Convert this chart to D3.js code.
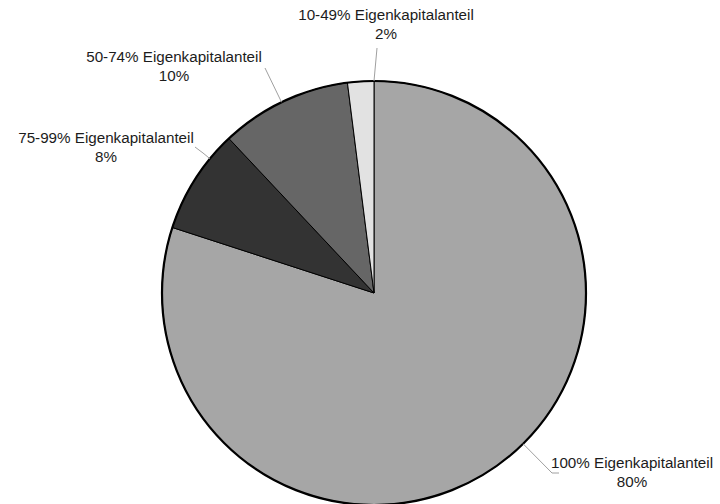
<!DOCTYPE html>
<html>
<head>
<meta charset="utf-8">
<script src="https://cdn.jsdelivr.net/npm/d3@7"></script>
<style>
  html, body { margin: 0; padding: 0; background: #fff; }
  svg { display: block; }
  text { font-family: "Liberation Sans", Arial, Helvetica, sans-serif; font-size: 15.2px; fill: #1c1c1c; }
</style>
</head>
<body>
<svg id="chart" width="720" height="504"></svg>
<script>
// Anteil der Unternehmen nach Eigenkapitalanteil
const categories = [
  "100% Eigenkapitalanteil",
  "75-99% Eigenkapitalanteil",
  "50-74% Eigenkapitalanteil",
  "10-49% Eigenkapitalanteil"
];
const shares = [80, 8, 10, 2];
const valueLabels = ["80%", "8%", "10%", "2%"];
const sliceColors = ["#a6a6a6", "#333333", "#666666", "#e2e2e2"];

const W = 720, H = 504;
const cx = 374, cy = 293, R = 212;

// label anchors (text centre x, first baseline y) and leader line end points
const labelPos = [
  { x: 632, y: 468, lead: [[559, 473], [552, 473]] },
  { x: 106, y: 143, lead: [[195, 147], [203, 153]] },
  { x: 174, y: 62,  lead: [[265, 68]] },
  { x: 386, y: 20,  lead: [[377, 48]] }
];

const svg = d3.select("#chart");
const g = svg.append("g").attr("transform", `translate(${cx},${cy})`);

const pie = d3.pie().sort(null).value(d => d)(shares);
const arc = d3.arc().innerRadius(0).outerRadius(R);

g.selectAll("path.slice")
  .data(pie)
  .join("path")
  .attr("class", "slice")
  .attr("d", arc)
  .attr("fill", (d, i) => sliceColors[i])
  .attr("stroke", "#000")
  .attr("stroke-width", 1)
  .attr("stroke-linejoin", "round");

// heavier outer rim
g.append("circle")
  .attr("r", R)
  .attr("fill", "none")
  .attr("stroke", "#000")
  .attr("stroke-width", 2.2);

// leader lines: from the nearest point of each slice's rim to its label
pie.forEach((d, i) => {
  const lp = labelPos[i];
  const pts = lp.lead.map(p => [p[0] - cx, p[1] - cy]);
  const last = pts[pts.length - 1];
  let a = Math.atan2(last[0], -last[1]);
  if (a < 0) a += 2 * Math.PI;
  if (a < d.startAngle && a + 2 * Math.PI - d.endAngle < d.startAngle - a) a += 2 * Math.PI;
  a = Math.max(d.startAngle, Math.min(d.endAngle, a));
  const start = [R * Math.sin(a), -R * Math.cos(a)];
  const line = d3.line();
  g.append("path")
    .attr("d", line([...pts, start]))
    .attr("fill", "none")
    .attr("stroke", "#a0a0a0")
    .attr("stroke-width", 1);
});

// labels
categories.forEach((c, i) => {
  const lp = labelPos[i];
  const t = svg.append("text")
    .attr("text-anchor", "middle")
    .attr("x", lp.x)
    .attr("y", lp.y);
  t.append("tspan").attr("x", lp.x).text(c);
  t.append("tspan").attr("x", lp.x).attr("dy", 19).text(valueLabels[i]);
});
</script>
</body>
</html>
